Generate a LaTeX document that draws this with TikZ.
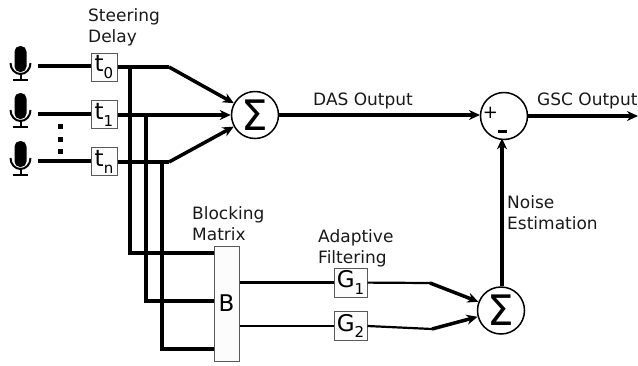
\documentclass[tikz,border=0pt]{standalone}
\usepackage{fontspec}
\setmainfont{DejaVu Sans}
\usetikzlibrary{arrows.meta}
\newcommand{\sublabel}[2]{#1\raisebox{-0.3em}{\fontsize{15}{15}\selectfont #2}}
\tikzset{
  wire/.style={line width=3.5pt},
  thinwire/.style={line width=2.2pt},
  arrowwire/.style={line width=3.5pt,-{Stealth[length=11pt,width=10pt]}},
  delaybox/.style={draw=black!65,line width=1pt,fill=black!1,inner sep=0pt,minimum width=26pt,minimum height=28pt,font=\fontsize{23}{23}\selectfont},
  sumnode/.style={draw,circle,line width=1.5pt,fill=white,inner sep=0pt,minimum size=47pt},
  lbl/.style={anchor=north west,inner sep=0pt,align=left,text=black!90,font=\fontsize{17}{21.5}\selectfont},
  mic/.pic={
    \fill[rounded corners=5.5pt] (-6,0) rectangle (6,26);
    \draw[line width=2pt] (-10,17) arc (180:0:10 and 11);
    \draw[line width=2pt] (0,28) -- (0,33);
    \draw[line width=2pt] (-7.5,34) -- (7.5,34);
  }
}
\begin{document}
\begin{tikzpicture}[x=1pt,y=-1pt]
  \useasboundingbox (0,0) rectangle (638,365);

  \pic at (20.5,46) {mic};
  \pic at (20.5,93) {mic};
  \pic at (20.5,141) {mic};

  \node[delaybox] (T0) at (104,67) {\sublabel{t}{0}};
  \node[delaybox] (T1) at (104,114.5) {\sublabel{t}{1}};
  \node[delaybox] (Tn) at (104,161.5) {\sublabel{t}{n}};
  \node[sumnode,font=\fontsize{42}{42}\selectfont] (S1) at (255,115) {Σ};
  \node[sumnode,font=\fontsize{42}{42}\selectfont] (S2) at (501,310.5) {Σ};
  \node[sumnode] (P) at (504,116) {};
  \node[delaybox,minimum width=25pt,minimum height=115pt] (B) at (226.5,303.5) {B};
  \node[delaybox,minimum width=33pt,minimum height=29pt] (G1) at (350.5,282.5) {\sublabel{G}{1}};
  \node[delaybox,minimum width=33pt,minimum height=29pt] (G2) at (350.5,326) {\sublabel{G}{2}};

  \coordinate (M0) at (38,66);
  \coordinate (M1) at (38,114);
  \coordinate (Mn) at (38,161);
  \coordinate (A0) at (169,67);
  \coordinate (An) at (169,162);
  \coordinate (D0) at (130,67);
  \coordinate (D1) at (146,115);
  \coordinate (Dn) at (162,162);
  \coordinate (B0) at (130,253);
  \coordinate (B1) at (146,301);
  \coordinate (Bn) at (162,349);
  \coordinate (C1) at (430,283);
  \coordinate (C2) at (432,329);
  \coordinate (Out) at (638,116);
  \coordinate (DasEnd) at (480,115);

  \draw[wire] (M0) -- (T0.west |- M0);
  \draw[wire] (M1) -- (T1.west |- M1);
  \draw[wire] (Mn) -- (Tn.west |- Mn);

  \draw[wire] (T0.east |- A0) -- (A0);
  \draw[arrowwire] (A0) -- (S1);
  \draw[arrowwire] (T1.east |- D1) -- (S1.west |- D1);
  \draw[wire] (Tn.east |- An) -- (An);
  \draw[arrowwire] (An) -- (S1);

  \draw[line width=4pt] (D0) -- (B0) -- (B.west |- B0);
  \draw[line width=4pt] (D1) -- (B1) -- (B.west |- B1);
  \draw[line width=4pt] (Dn) -- (Bn) -- (B.west |- Bn);

  \draw[thinwire] (B.east |- G1) -- (G1);
  \draw[thinwire] (B.east |- G2) -- (G2);
  \draw[thinwire] (G1) -- (C1);
  \draw[thinwire] (G2.east) -- (C2);
  \draw[arrowwire] (C1) -- (S2);
  \draw[arrowwire] (C2) -- (S2);

  \draw[arrowwire] (S1.east) -- (DasEnd);
  \draw[arrowwire] (S2.north -| P.south) ++(-2,0) -- ++(0,-148);
  \draw[line width=4pt,-{Stealth[length=11pt,width=10pt]}] (P) -- (Out);

  \fill (57.5,124) rectangle ++(5,5);
  \fill (57.5,137) rectangle ++(5,5);
  \fill (57.5,149) rectangle ++(5,5);

  \node[lbl] (steerlabel) at (88,8) {Steering\\Delay};
  \node[lbl] (blocklabel) at (192,206) {Blocking\\Matrix};
  \node[lbl] (adaptlabel) at (318,229) {Adaptive\\Filtering};
  \node[lbl] (noiselabel) at (507,195) {Noise\\Estimation};
  \node[lbl] (daslabel) at (313,93) {DAS Output};
  \node[lbl] (gsclabel) at (537,93) {GSC Output};
  \node[font=\fontsize{18}{18}\selectfont,inner sep=0pt] (pluslabel) at (490.5,113) {+};
  \fill (498,130) rectangle (507,132.5);
\end{tikzpicture}
\end{document}
